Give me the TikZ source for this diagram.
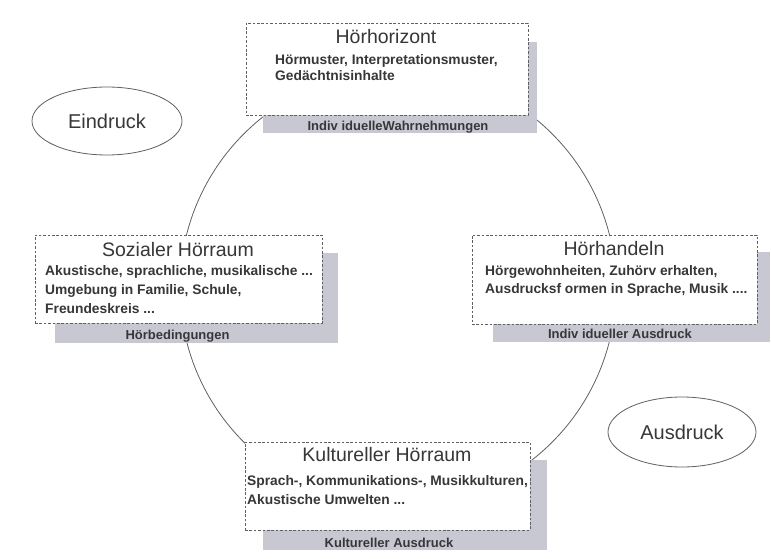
\documentclass[tikz,border=0pt]{standalone}
\usepackage{fontspec}
\setmainfont{Liberation Sans}
\usetikzlibrary{shapes.geometric}
\definecolor{shadowc}{RGB}{200,200,210}
\definecolor{inkc}{RGB}{55,55,58}
\definecolor{linec}{RGB}{95,95,100}
\tikzset{
  ttl/.style={anchor=base, inner sep=0pt, text=inkc, font=\fontsize{19.5}{21}\selectfont},
  bodytxt/.style={anchor=base west, inner sep=0pt, text=inkc, font=\fontsize{13.8}{16}\selectfont\bfseries},
  lbl/.style={anchor=base, inner sep=0pt, text=inkc, font=\fontsize{13}{15}\selectfont\bfseries},
  shade/.style={fill=shadowc, draw=none},
  dbox/.style={draw=linec, fill=white, line width=0.7pt, dash pattern=on 2.6pt off 1.8pt, rectangle, inner sep=0pt},
  oval/.style={ellipse, draw=linec, line width=0.8pt, inner sep=0pt, text=inkc, font=\fontsize{20}{22}\selectfont},
}
\begin{document}
\begin{tikzpicture}[x=1pt,y=-1pt]
\useasboundingbox (0,0) rectangle (771,559);
% ring
\node[circle, draw=linec, line width=0.8pt, minimum size=436pt, inner sep=0pt] (ring) at (398,288) {};
% shadows
\fill[shade] (263,42) rectangle (537,133);
\fill[shade] (55,253) rectangle (338,343);
\fill[shade] (493,252) rectangle (770,342);
\fill[shade] (263,460) rectangle (547,550);
% boxes
\node[dbox, minimum width=282pt, minimum height=92pt] (top) at (387,69) {};
\node[dbox, minimum width=287pt, minimum height=88pt] (left) at (178.5,279) {};
\node[dbox, minimum width=285pt, minimum height=89pt] (right) at (614.5,279.5) {};
\node[dbox, minimum width=285pt, minimum height=88pt] (bottom) at (387.5,486) {};
% top texts
\node[ttl] (topT) at (386,43.3) {Hörhorizont};
\node[bodytxt] (topA) at (275,65) {Hörmuster, Interpretationsmuster,};
\node[bodytxt] (topB) at (275,81) {Gedächtnisinhalte};
\node[lbl] (topL) at (398,130.7) {Indiv iduelleWahrnehmungen};
% left texts
\node[ttl] (leftT) at (178,256.5) {Sozialer Hörraum};
\node[bodytxt] (leftA) at (45,275) {Akustische, sprachliche, musikalische ...};
\node[bodytxt] (leftB) at (45,294.5) {Umgebung in Familie, Schule,};
\node[bodytxt] (leftC) at (45,313.5) {Freundeskreis ...};
\node[lbl] (leftL) at (177.5,339) {Hörbedingungen};
% right texts
\node[ttl] (rightT) at (614,255) {Hörhandeln};
\node[bodytxt] (rightA) at (485,275) {Hörgewohnheiten, Zuhörv erhalten,};
\node[bodytxt] (rightB) at (485,293) {Ausdrucksf ormen in Sprache, Musik ....};
\node[lbl] (rightL) at (620,338.5) {Indiv idueller Ausdruck};
% bottom texts
\node[ttl] (botT) at (387,461.5) {Kultureller Hörraum};
\node[bodytxt] (botA) at (247,485) {Sprach-, Kommunikations-, Musikkulturen,};
\node[bodytxt] (botB) at (247,504) {Akustische Umwelten ...};
\node[lbl] (botL) at (389,547) {Kultureller Ausdruck};
% ovals
\node[oval, minimum width=150pt, minimum height=68pt] (ein) at (107,121) {Eindruck};
\node[oval, minimum width=148pt, minimum height=70pt] (aus) at (682,432) {Ausdruck};
\end{tikzpicture}
\end{document}
